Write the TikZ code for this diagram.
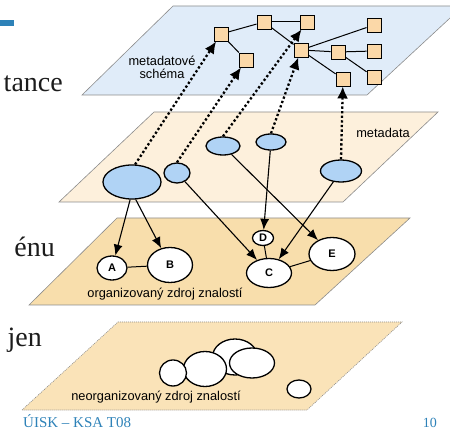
\documentclass[tikz,border=0pt]{standalone}
\usepackage{fontspec}
\setmainfont{Liberation Serif}
\newfontfamily\diagfont{Liberation Sans}
\usetikzlibrary{shapes.geometric,arrows.meta}

\definecolor{schemafill}{HTML}{E0ECF9}
\definecolor{metafill}{HTML}{FDF0DC}
\definecolor{orgfill}{HTML}{F8DEAC}
\definecolor{rawfill}{HTML}{FAE3B8}
\definecolor{sqfill}{HTML}{FBD8A8}
\definecolor{bluefill}{HTML}{B0D3F5}
\definecolor{planeline}{HTML}{8C8C8C}
\definecolor{slidetext}{HTML}{1C1C1C}
\definecolor{slideblue}{HTML}{2E82B8}

\begin{document}
\begin{tikzpicture}[x=1pt,y=-1pt,
  plane/.style={draw=planeline,line width=0.6pt},
  sq/.style={draw=black,fill=sqfill,minimum size=14pt,inner sep=0pt,line width=0.9pt},
  blob/.style={ellipse,draw=black,line width=1.3pt,inner sep=0pt},
  meta/.style={blob,fill=bluefill},
  item/.style={blob,fill=white,font=\diagfont\bfseries\fontsize{11}{11}\selectfont},
  link/.style={line width=1pt},
  arr/.style={line width=1.1pt,-{Latex[length=11pt,width=9pt]}},
  dots/.style={line width=2.3pt,dash pattern=on 2.3pt off 2.3pt,-{Latex[length=12pt,width=11pt]}},
  layerlabel/.style={font=\diagfont\fontsize{12.8}{13}\selectfont,inner sep=0pt},
  slideword/.style={font=\fontsize{28}{28}\selectfont,text=slidetext,inner sep=0pt}
]
\useasboundingbox (0,0) rectangle (450,430);
\clip (0,0) rectangle (450,430);

% slide background pieces
\fill[slideblue] (0,20) rectangle (14,26);
\node[slideword,anchor=base east] (w1) at (63,92) {tance};
\node[slideword,anchor=base east] (w2) at (55,257) {énu};
\node[slideword,anchor=base east] (w3) at (42,347) {jen};
\node[font=\fontsize{15}{15}\selectfont,text=slideblue,anchor=base west,inner sep=0pt] (foot) at (23,427) {ÚISK – KSA T08};
\node[font=\fontsize{14}{14}\selectfont,text=slideblue,anchor=base east,inner sep=0pt] (page) at (437,427) {10};

% the four layers
\filldraw[plane,fill=schemafill] (82,95) -- (173,6) -- (463,6) -- (367,95) -- cycle;
\filldraw[plane,fill=metafill] (59,202) -- (154,112) -- (438,112) -- (343,202) -- cycle;
\filldraw[plane,fill=orgfill] (29,305) -- (117,218) -- (410,218) -- (315,305) -- cycle;
\filldraw[draw=planeline,line width=0.6pt,dash pattern=on 1pt off 1pt,fill=rawfill]
  (22,410) -- (118,322) -- (402,322) -- (307,410) -- cycle;

% layer labels
\node[layerlabel,align=center] (lschema) at (162,67) {metadatové\\schéma};
\node[layerlabel] (lmeta) at (383,133) {metadata};
\node[layerlabel] (lorg) at (165,294) {organizovaný zdroj znalostí};
\node[layerlabel] (lraw) at (156,397) {neorganizovaný zdroj znalostí};

% metadata schema
\node[sq] (S1) at (221,34) {};
\node[sq] (S2) at (264,22) {};
\node[sq] (S3) at (307,22) {};
\node[sq] (S4) at (246,60) {};
\node[sq] (S5) at (301,50) {};
\node[sq] (S6) at (338,52) {};
\node[sq] (S7) at (374,25) {};
\node[sq] (S8) at (374,51) {};
\node[sq] (S9) at (374,77) {};
\node[sq] (S10) at (343,79) {};
\draw[link] (S1) -- (S2);
\draw[link] (S2) -- (S3);
\draw[link] (S2) -- (S5);
\draw[link] (S1) -- (S4);
\draw[link] (S5) -- (S7);
\draw[link] (S5) -- (S6);
\draw[link] (S6) -- (S8);
\draw[link] (S6) -- (S9);
\draw[link] (S5) -- (S10);

% metadata records
\node[meta,minimum width=58pt,minimum height=34pt] (M1) at (132,182) {};
\node[meta,minimum width=26pt,minimum height=20pt] (M2) at (177,173) {};
\node[meta,minimum width=34pt,minimum height=18pt] (M3) at (223,146) {};
\node[meta,minimum width=30pt,minimum height=16pt] (M4) at (271,142) {};
\node[meta,minimum width=41pt,minimum height=22pt] (M5) at (341,171) {};

% organized source
\node[item,minimum width=30pt,minimum height=24pt] (A) at (112,268) {A};
\node[item,minimum width=45pt,minimum height=35pt] (B) at (170,265) {B};
\node[item,minimum width=21pt,minimum height=15pt] (D) at (263,238) {D};
\node[item,minimum width=45pt,minimum height=29pt] (C) at (269,273) {C};
\node[item,minimum width=46pt,minimum height=33pt] (E) at (332,254) {E};
\draw[link] (A) -- (B);
\draw[link] (D) -- (C);
\draw[link] (C) -- (E);

% unorganized source
\node[blob,fill=white,minimum width=45pt,minimum height=36pt] (U3) at (235,357) {};
\node[blob,fill=white,minimum width=43pt,minimum height=35pt] (U2) at (205,369) {};
\node[blob,fill=white,minimum width=27pt,minimum height=26pt] (U1) at (173,373) {};
\node[blob,fill=white,minimum width=45pt,minimum height=30pt] (U4) at (252,363) {};
\node[blob,fill=white,minimum width=24pt,minimum height=18pt] (U5) at (299,389) {};

% metadata to schema
\draw[dots] (M1.80) -- (S1);
\draw[dots] (M2.north) -- (S4);
\draw[dots] (M3.north) -- (S3);
\draw[dots] (M4.north) -- (S5);
\draw[dots] (M5.north) -- (S10);

% metadata to described resources
\draw[arr] (M1.264) -- (A);
\draw[arr] (M1.282) -- (B);
\draw[arr] (M2) -- (C);
\draw[arr] (M4) -- (D);
\draw[arr] (M3) -- (E);
\draw[arr] (M5) -- (C);
\end{tikzpicture}
\end{document}
